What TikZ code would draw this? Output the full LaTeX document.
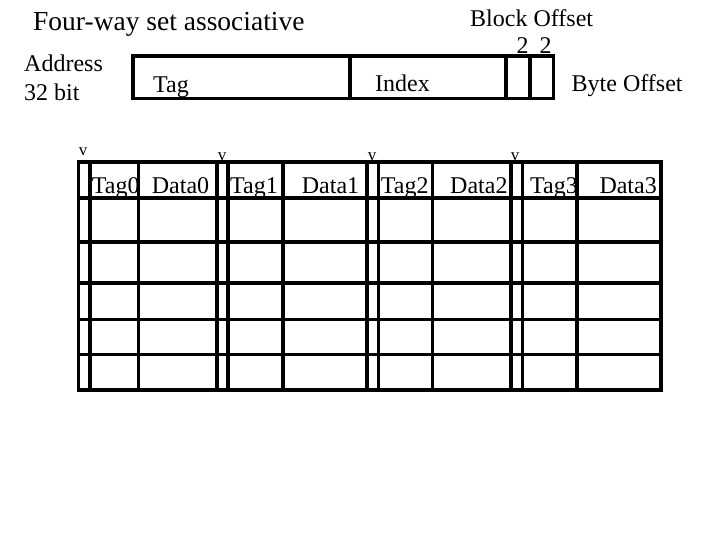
\documentclass[tikz,border=0pt]{standalone}
\usepackage{fontspec}
\setmainfont{Liberation Serif}
\begin{document}
\begin{tikzpicture}[x=1pt,y=-1pt,
  grid/.style={line width=3.6pt,line cap=rect},
  lbl/.style={anchor=base west,inner sep=0pt,font=\rmfamily\fontsize{24}{28}\selectfont},
  vmark/.style={anchor=base,inner sep=0pt,font=\rmfamily\fontsize{17}{20}\selectfont}]
\useasboundingbox (0,0) rectangle (720,540);
% texts
\node[lbl,font=\rmfamily\fontsize{27.5}{32}\selectfont] (title) at (33,31) {Four-way set associative};
\node[lbl] (addr) at (24,72) {Address};
\node[lbl] (bits) at (24,101) {32 bit};
\node[lbl] (tag) at (153,92.5) {Tag};
\node[lbl] (index) at (375,92) {Index};
\node[lbl] (blk) at (470,27) {Block Offset};
\node[lbl] (twoa) at (516.5,53.5) {2};
\node[lbl] (twob) at (539.5,53.5) {2};
\node[lbl] (byte) at (571.5,92) {Byte Offset};
\node[vmark] (v0) at (83,156) {v};
\node[vmark] (v1) at (222,161) {v};
\node[vmark] (v2) at (372,161) {v};
\node[vmark] (v3) at (515,161) {v};
\node[lbl] (t0) at (91.7,193.3) {Tag0};
\node[lbl] (d0) at (151.7,193.3) {Data0};
\node[lbl] (t1) at (230,193.3) {Tag1};
\node[lbl] (d1) at (301.7,193.3) {Data1};
\node[lbl] (t2) at (380.7,193.3) {Tag2};
\node[lbl] (d2) at (450,193.3) {Data2};
\node[lbl] (t3) at (530,193.3) {Tag3};
\node[lbl] (d3) at (599.3,193.3) {Data3};
% address box
\draw[grid] (133,56) rectangle (553.3,98.5);
\foreach \x in {350,505.7,530} \draw[grid] (\x,56) -- (\x,98.5);
% cache table
\foreach \y in {162.3,198.3,241.7,282.7,319.3,354.3,390}
  \draw[grid] (78.3,\y) -- (661,\y);
\foreach \x in {78.3,90,138.3,216.7,227.7,282.7,366.7,378.3,432.3,510.7,522.3,576.7,661}
  \draw[grid] (\x,162.3) -- (\x,390);
\end{tikzpicture}
\end{document}
